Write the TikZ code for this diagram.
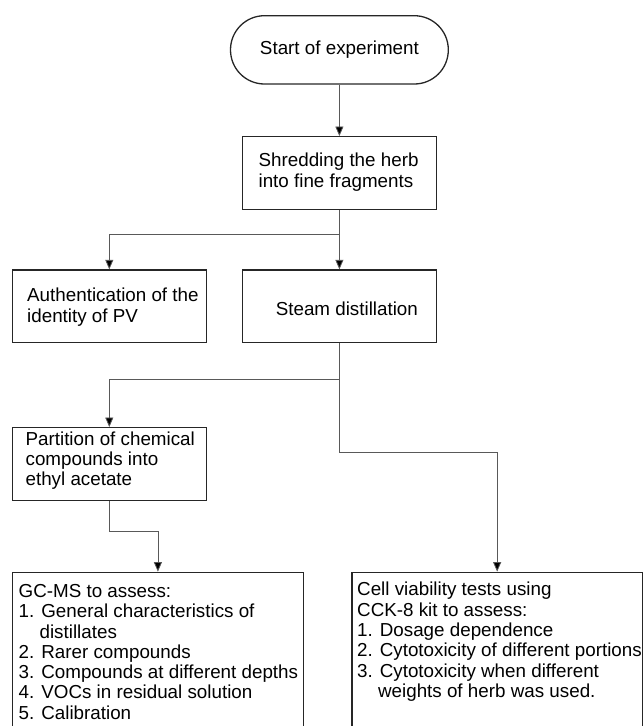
\documentclass[tikz,border=0pt]{standalone}
\usepackage{fontspec}
\setmainfont{Liberation Sans}
\usetikzlibrary{arrows.meta}
\begin{document}
\begin{tikzpicture}[x=1pt,y=-1pt,
  box/.style={draw=black!85, line width=1.3pt, rectangle, inner sep=0pt},
  txt/.style={inner sep=0pt, align=left, font=\fontsize{18.8pt}{20.3pt}\selectfont},
  conn/.style={draw=black!65, line width=0.8pt, -{Triangle[length=9.5pt,width=8pt,fill=black]}},
  line/.style={draw=black!65, line width=0.8pt}]
\useasboundingbox (0,0) rectangle (643,726);
\clip (0,0) rectangle (643,726);
% boxes
\node[box, rounded corners=34pt, minimum width=217.8pt, minimum height=68.3pt,
      font=\fontsize{18.8pt}{20.3pt}\selectfont] (start) at (339.4,49.85) {Start of experiment};
\node[box, minimum width=194pt, minimum height=72.6pt] (shred) at (339.4,173) {};
\node[box, minimum width=194pt, minimum height=72.3pt] (auth) at (109.3,306.15) {};
\node[box, minimum width=194pt, minimum height=72.3pt] (steam) at (339.4,306.15) {};
\node[box, minimum width=194pt, minimum height=72.8pt] (part) at (109.3,464.1) {};
\node[box, minimum width=291.2pt, minimum height=160pt] (gcms) at (157.9,652.3) {};
\node[box, minimum width=290.3pt, minimum height=160pt] (cell) at (497.15,652.3) {};
% texts
\node[txt, anchor=north west] (shredT) at (258.4,152.4) {\strut Shredding the herb\\into fine fragments};
\node[txt, anchor=north west] (authT) at (27,287.4) {\strut Authentication of the\\identity of PV};
\node[txt, anchor=base west] (steamT) at (275.6,315) {Steam distillation};
\node[txt, anchor=north west] (partT) at (25.4,430.7) {\strut Partition of chemical\\compounds into\\ethyl acetate};
\node[txt, anchor=north west] (gcmsT) at (18.5,583) {\strut GC-MS to assess:\\1. General characteristics of\\\phantom{1.\ }distillates\\2. Rarer compounds\\3. Compounds at different depths\\4. VOCs in residual solution\\5. Calibration};
\node[txt, anchor=north west] (cellT) at (357,581.4) {\strut Cell viability tests using\\CCK-8 kit to assess:\\1. Dosage dependence\\2. Cytotoxicity of different portions\\3. Cytotoxicity when different\\\phantom{3.\ }weights of herb was used.};
% branch coordinates
\coordinate (b1) at (0,234.3);
\coordinate (b2) at (0,379.3);
\coordinate (b3) at (0,452.3);
\coordinate (b4) at (0,531.5);
% connectors
\draw[conn] (start.south) -- (shred.north);
\draw[conn] (shred.south) -- (steam.north);
\draw[conn] (shred.south |- b1) -| (auth.north);
\draw[line] (steam.south) -- (steam.south |- b3);
\draw[conn] (steam.south |- b2) -| (part.north);
\draw[conn] (steam.south |- b3) -| (cell.north);
\draw[conn] (part.south) -- (part.south |- b4) -| (gcms.north);
\end{tikzpicture}
\end{document}
